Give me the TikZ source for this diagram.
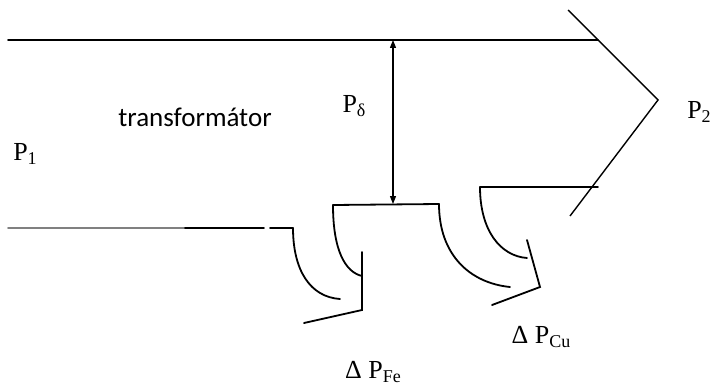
\documentclass[tikz,border=0pt]{standalone}
\usepackage{fontspec}
\setmainfont{Liberation Serif}
\newfontfamily\labelsans{Carlito}
\usetikzlibrary{arrows.meta}

\newcommand{\lowidx}[1]{\raisebox{-0.15em}{\fontsize{9}{10}\selectfont #1}}

\tikzset{
  wire/.style={line width=0.9pt,line cap=round},
  lossarc/.style={wire},
  powerlbl/.style={font=\fontsize{13}{15}\selectfont,inner sep=0pt},
}

\begin{document}
\begin{tikzpicture}[x=0.5pt,y=-0.5pt]
  \useasboundingbox (0,0) rectangle (716,385);
  % main power flow
  \coordinate (topL) at (8,40);
  \coordinate (topR) at (598,40);
  \coordinate (botR) at (598,187);
  \coordinate (tipO) at (568,10);
  \coordinate (tip) at (658,100);
  \coordinate (tipU) at (570,216);
  \draw[wire] (topL) -- (topR);
  \draw[line width=0.7pt] (tipO) -- (tip) -- (tipU);
  % input side
  \coordinate (inL) at (8,228);
  \coordinate (inM) at (185,228);
  \coordinate (inG) at (264,228);
  \coordinate (inH) at (270,228);
  \coordinate (inE) at (293,228);
  \draw[wire,gray] (inL) -- (inM);
  \draw[wire] (inM) -- (inG);
  \draw[wire] (inH) -- (inE);
  % iron losses
  \coordinate (feA) at (340,299);
  \coordinate (boxL) at (333,205);
  \coordinate (boxR) at (439,204);
  \coordinate (feB) at (362,276);
  \coordinate (feT) at (362,252);
  \coordinate (feV) at (362,310);
  \coordinate (feW) at (304,323);
  \draw[lossarc] (inE) .. controls (293,270) and (310,297) .. (feA);
  \draw[wire] (boxL) -- (boxR);
  \draw[lossarc] (boxL) .. controls (333,250) and (345,272) .. (feB);
  \draw[wire] (feT) -- (feV) -- (feW);
  % copper losses
  \coordinate (cuA) at (510,287);
  \coordinate (cuS) at (480,187);
  \coordinate (cuB) at (527,258);
  \coordinate (cuT) at (527,240);
  \coordinate (cuV) at (540,287);
  \coordinate (cuW) at (492,305);
  \draw[lossarc] (boxR) .. controls (439,255) and (470,283) .. (cuA);
  \draw[wire] (cuS) -- (botR);
  \draw[lossarc] (cuS) .. controls (480,230) and (500,256) .. (cuB);
  \draw[wire] (cuT) -- (cuV) -- (cuW);
  % air-gap power
  \coordinate (gapT) at (393,40);
  \coordinate (gapB) at (393,204);
  \draw[line width=0.6pt,{Triangle[length=4pt,width=3pt]}-{Triangle[length=4pt,width=3pt]}] (gapT) -- (gapB);
  % labels
  \node[font=\labelsans\fontsize{13.5}{16}\selectfont,inner sep=0pt] (trafo) at (195,117) {transformátor};
  \node[powerlbl] (pin) at (25,154) {P\lowidx{1}};
  \node[powerlbl] (pgap) at (354,106) {P\lowidx{δ}};
  \node[powerlbl] (pout) at (699,112) {P\lowidx{2}};
  \node[powerlbl] (pcu) at (541,337) {Δ P\lowidx{Cu}};
  \node[powerlbl] (pfe) at (373,372) {Δ P\lowidx{Fe}};
\end{tikzpicture}
\end{document}
